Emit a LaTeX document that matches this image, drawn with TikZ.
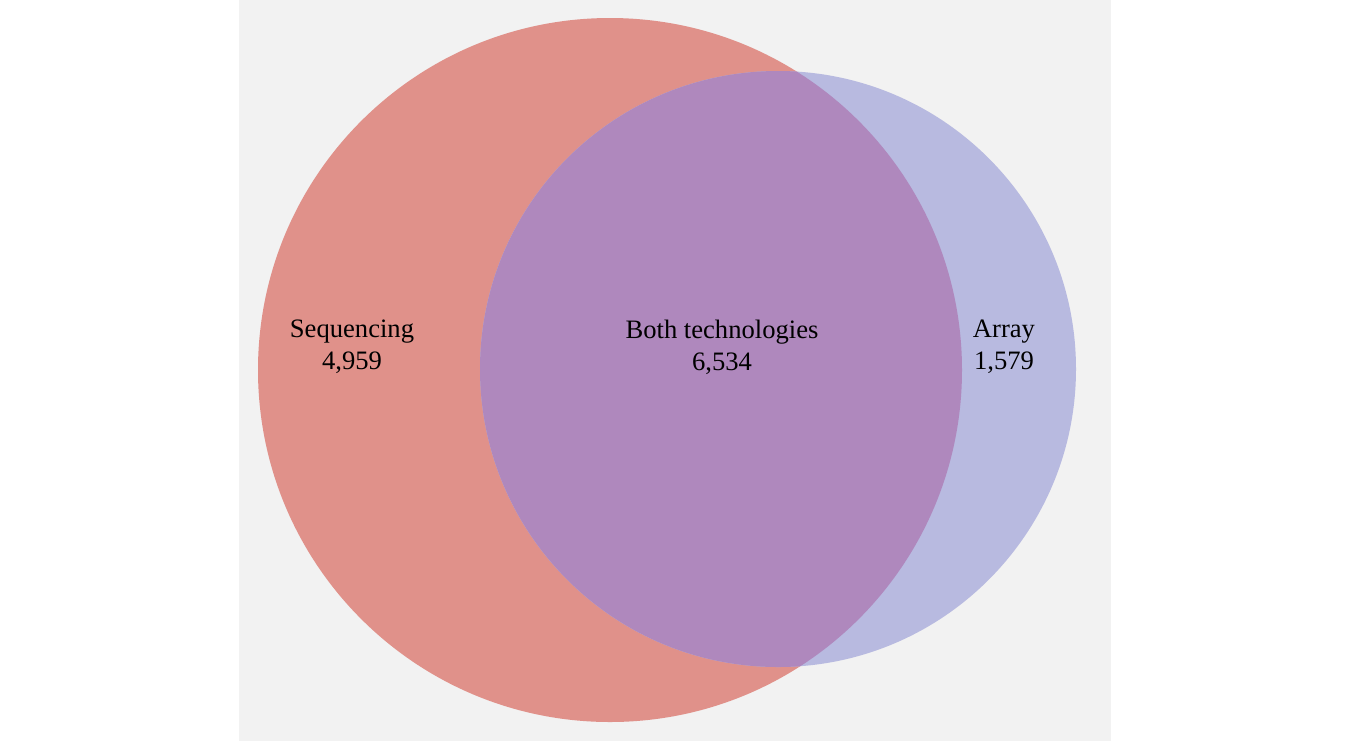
\documentclass[tikz,border=0pt]{standalone}
\usepackage{fontspec}
\setmainfont{Liberation Serif}
\usetikzlibrary{positioning}
\definecolor{seqred}{RGB}{224,145,138}
\definecolor{arrblue}{RGB}{184,186,224}
\definecolor{bothpurple}{RGB}{175,136,189}
\definecolor{panelgrey}{RGB}{242,242,242}

\begin{document}
\begin{tikzpicture}[
  x=0.5pt, y=-0.5pt,
  font=\fontsize{13.3}{16}\selectfont,
  set/.style={circle, inner sep=0pt, draw=none},
  lbl/.style={align=center, inner sep=1pt}
]
% --- page and panel ---
\fill[white] (0,0) rectangle (1350,741);
\useasboundingbox (0,0) rectangle (1350,741);
\fill[panelgrey] (239,0) rectangle (1111,741);

% --- the two sets ---
\node[set, fill=seqred, minimum size=352pt] (seq) at (610,370) {};
\node[set, fill=arrblue, minimum size=298pt] (arr) at (778,369) {};
\begin{scope}
  \clip (seq.center) circle[radius=352];
  \fill[bothpurple] (arr.center) circle[radius=298];
\end{scope}

% --- counts ---
\node[lbl] (seqlbl) at (352,347) {Sequencing\\4,959};
\node[lbl] (bothlbl) at (722,347) {Both technologies\\6,534};
\node[lbl] (arrlbl) at (1004,347) {Array\\1,579};
\end{tikzpicture}
\end{document}
